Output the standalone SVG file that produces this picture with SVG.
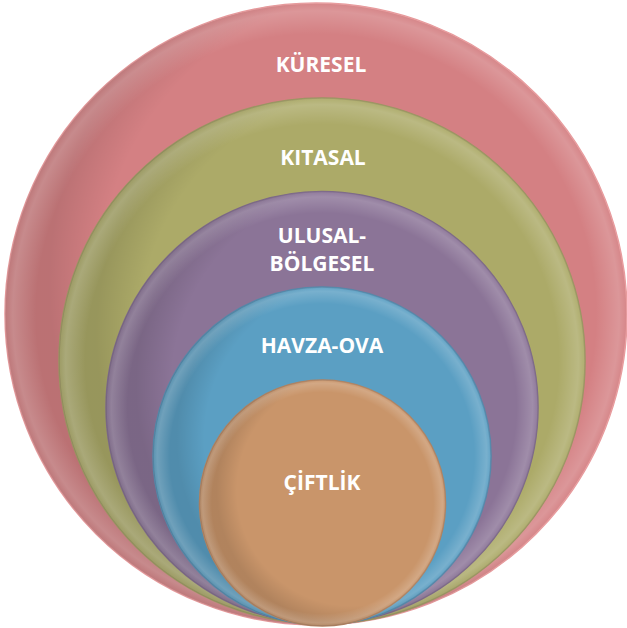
<svg xmlns="http://www.w3.org/2000/svg" width="627" height="628" viewBox="0 0 627 628">
<defs>
<radialGradient id="rim" cx="0.5" cy="0.5" r="0.5">
<stop offset="0.9" stop-color="#fff" stop-opacity="0"/>
<stop offset="0.975" stop-color="#fff" stop-opacity="0.18"/>
<stop offset="1" stop-color="#fff" stop-opacity="0.05"/>
</radialGradient>
<radialGradient id="shade" cx="0.62" cy="0.45" r="0.55">
<stop offset="0.85" stop-color="#000" stop-opacity="0"/>
<stop offset="1" stop-color="#000" stop-opacity="0.12"/>
</radialGradient>
</defs>
<style>
.lbl{font-family:"Open Sans","Liberation Sans",sans-serif;font-weight:700;font-size:21px;fill:#fff;text-anchor:middle}
.ov{stroke:none}
</style>
<rect width="627" height="628" fill="#fff"/>
<g id="kuresel">
<circle cx="316" cy="314" r="311" fill="#D48083" stroke="#E79A9C" stroke-width="1.5"/>
<circle class="ov" cx="316" cy="314" r="311" fill="url(#shade)"/>
<circle class="ov" cx="316" cy="314" r="311" fill="url(#rim)"/>
<text class="lbl" x="321" y="72">KÜRESEL</text>
</g>
<g id="kitasal">
<circle cx="322" cy="361" r="263" fill="#ACAA68" stroke="#9A9560" stroke-width="1.5"/>
<circle class="ov" cx="322" cy="361" r="263" fill="url(#shade)"/>
<circle class="ov" cx="322" cy="361" r="263" fill="url(#rim)"/>
<text class="lbl" x="323" y="165">KITASAL</text>
</g>
<g id="ulusal">
<circle cx="322" cy="407.5" r="216" fill="#8B7497" stroke="#7C6888" stroke-width="1.5"/>
<circle class="ov" cx="322" cy="407.5" r="216" fill="url(#shade)"/>
<circle class="ov" cx="322" cy="407.5" r="216" fill="url(#rim)"/>
<text class="lbl" x="322" y="243">ULUSAL-</text>
<text class="lbl" x="322" y="271">BÖLGESEL</text>
</g>
<g id="havza">
<circle cx="322" cy="456" r="169" fill="#5B9FC3" stroke="#5288AA" stroke-width="1.5"/>
<circle class="ov" cx="322" cy="456" r="169" fill="url(#shade)"/>
<circle class="ov" cx="322" cy="456" r="169" fill="url(#rim)"/>
<text class="lbl" x="322" y="353">HAVZA-OVA</text>
</g>
<g id="ciftlik">
<circle cx="322.5" cy="503" r="123" fill="#C9956A" stroke="#B08260" stroke-width="1.5"/>
<circle class="ov" cx="322.5" cy="503" r="123" fill="url(#shade)"/>
<circle class="ov" cx="322.5" cy="503" r="123" fill="url(#rim)"/>
<text class="lbl" x="322" y="490">ÇİFTLİK</text>
</g>
<g id="connectors"/>
</svg>
